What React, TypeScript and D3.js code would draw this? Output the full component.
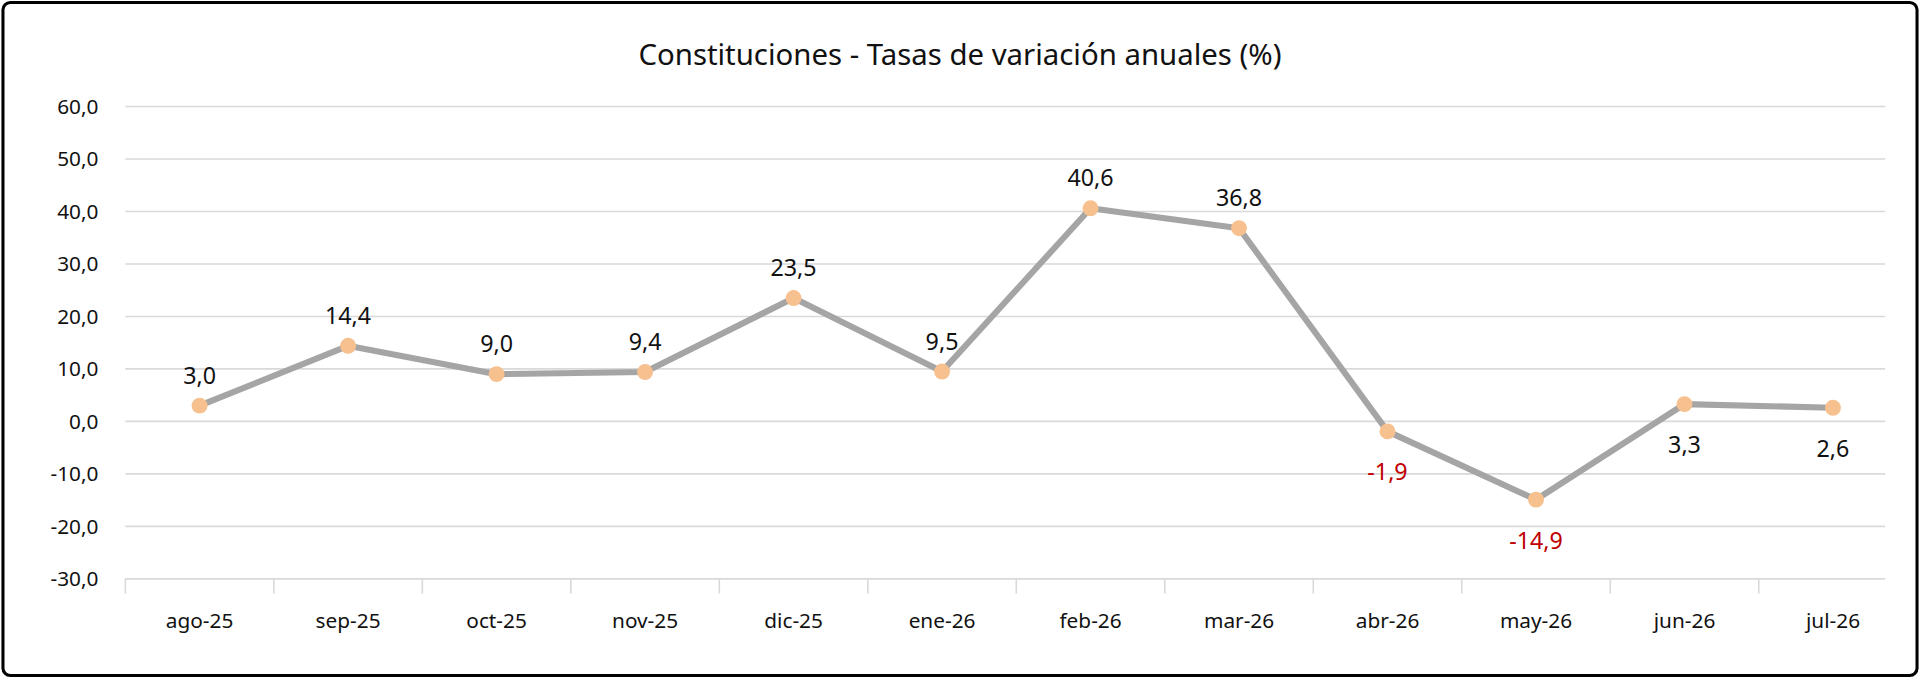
import React, { useEffect, useRef } from 'react';
import * as d3 from 'd3';

const months = ['ago-25', 'sep-25', 'oct-25', 'nov-25', 'dic-25', 'ene-26', 'feb-26', 'mar-26', 'abr-26', 'may-26', 'jun-26', 'jul-26'];
const rates = [3.0, 14.4, 9.0, 9.4, 23.5, 9.5, 40.6, 36.8, -1.9, -14.9, 3.3, 2.6];
const labelBelow = [false, false, false, false, false, false, false, false, true, true, true, true];
const yTicks = [-30, -20, -10, 0, 10, 20, 30, 40, 50, 60];

const W = 1568, H = 554;

export default function App() {
  const ref = useRef<SVGSVGElement>(null);

  useEffect(() => {
    document.body.style.margin = '0';
    document.body.style.overflow = 'hidden';
    if (!ref.current) return;
    const svg = d3.select(ref.current);
    svg.selectAll('*').remove();
    const font = "'Noto Sans', sans-serif";
    const fmt = (v: number) => v.toFixed(1).replace('.', ',');

    svg.append('rect').attr('x', 2).attr('y', 2).attr('width', W - 4).attr('height', H - 4)
      .attr('rx', 6).attr('fill', '#fff').attr('stroke', '#000').attr('stroke-width', 2.5);

    const x = d3.scaleBand().domain(months).range([102, 1558]);
    const y = d3.scaleLinear().domain([-30, 60]).range([473, 87]);

    svg.append('text').attr('x', W / 2).attr('y', 53).attr('text-anchor', 'middle')
      .style('font-family', font).style('font-size', '24px').attr('fill', '#111')
      .text('Constituciones - Tasas de variación anuales (%)');

    const grid = svg.append('g');
    yTicks.forEach(t => {
      if (t !== -30) grid.append('line').attr('x1', 102).attr('x2', 1540).attr('y1', y(t)).attr('y2', y(t))
        .attr('stroke', '#d9d9d9').attr('stroke-width', 1.3);
      grid.append('text').attr('x', 80).attr('y', y(t) + 6).attr('text-anchor', 'end')
        .style('font-family', font).style('font-size', '17px').attr('fill', '#111').text(fmt(t));
    });

    const xAxis = svg.append('g').attr('transform', `translate(0,${y(-30)})`)
      .call(d3.axisBottom(x).tickSize(0).tickPadding(28));
    xAxis.select('.domain').attr('stroke', '#d9d9d9').attr('stroke-width', 1.3).attr('d', 'M102,0H1540');
    xAxis.selectAll('text').style('font-family', font).style('font-size', '17px').attr('fill', '#111');
    months.forEach(m => {
      const bx = x(m)!;
      xAxis.append('line').attr('x1', bx).attr('x2', bx).attr('y1', 0).attr('y2', 12)
        .attr('stroke', '#d9d9d9').attr('stroke-width', 1.3);
    });

    const cx = (i: number) => x(months[i])! + x.bandwidth() / 2;
    const line = d3.line<number>().x((_, i) => cx(i)).y(d => y(d));
    svg.append('path').datum(rates).attr('d', line).attr('fill', 'none')
      .attr('stroke', '#a5a5a5').attr('stroke-width', 5).attr('stroke-linejoin', 'round');

    svg.selectAll('circle.pt').data(rates).enter().append('circle')
      .attr('cx', (_, i) => cx(i)).attr('cy', d => y(d)).attr('r', 6.5).attr('fill', '#f7c08f');

    svg.selectAll('text.lbl').data(rates).enter().append('text')
      .attr('x', (_, i) => cx(i)).attr('y', (d, i) => labelBelow[i] ? y(d) + 40 : y(d) - 18)
      .attr('text-anchor', 'middle').style('font-family', font).style('font-size', '19px')
      .attr('fill', d => d < 0 ? '#c00000' : '#111').text(d => fmt(d));
  }, []);

  return (
    <svg ref={ref} viewBox={`0 0 ${W} ${H}`} width={1920} height={678} style={{ display: 'block' }} />
  );
}
